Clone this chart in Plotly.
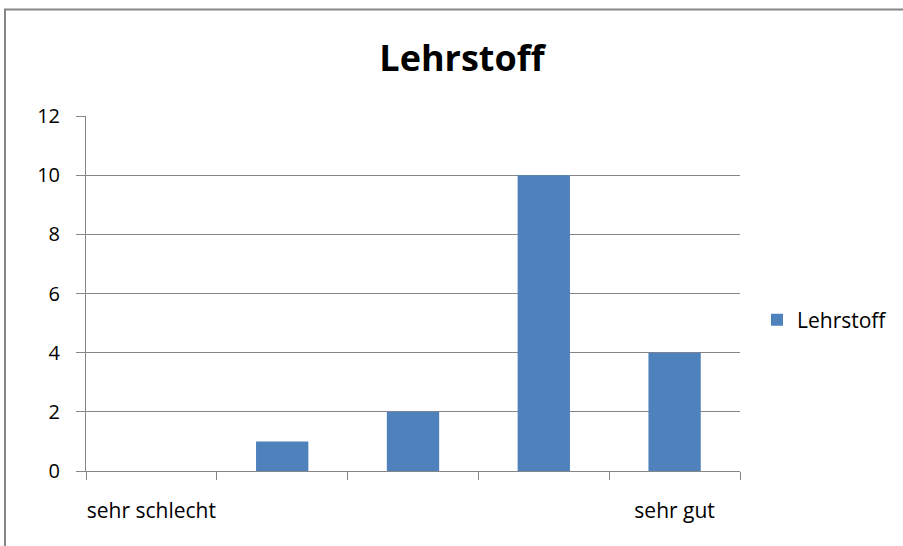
import plotly.graph_objects as go

categories = ["sehr schlecht", "2", "3", "4", "sehr gut"]
tick_labels = ["sehr schlecht", "", "", "", "sehr gut"]
values = [0, 1, 2, 10, 4]
series_name = "Lehrstoff"
title = "Lehrstoff"

W, H = 903, 546
L, R, T, B = 86, 740, 115.7, 471
pw, ph = R - L, B - T

fig = go.Figure()
fig.add_trace(go.Bar(x=categories, y=values, name=series_name,
                     marker=dict(color="#4F81BD", line=dict(width=0)),
                     showlegend=True))

font = "Open Sans, Noto Sans, sans-serif"

fig.update_layout(
    width=W, height=H,
    margin=dict(l=L, r=W - R, t=T, b=H - B, pad=0, autoexpand=False),
    paper_bgcolor="white", plot_bgcolor="white",
    bargap=0.6,
    font=dict(family=font, color="#000000", size=20),
    title=dict(text="<b>" + title + "</b>", x=(462) / W, xanchor="center",
               y=1 - 58 / H, yanchor="middle",
               font=dict(size=36, family=font, color="#000000")),
    showlegend=True,
    legend=dict(x=(757 - L) / pw, y=(471 - 320) / ph, xanchor="left", yanchor="middle",
                font=dict(size=21, family=font, color="#000000"),
                itemwidth=30, bgcolor="rgba(0,0,0,0)"),
    xaxis=dict(type="category", tickmode="array", tickvals=categories, ticktext=tick_labels,
               tickson="boundaries", ticks="outside", ticklen=8, tickcolor="#868686",
               showline=True, linecolor="#868686", linewidth=1, tickangle=0,
               automargin=False,
               showgrid=False, ticklabelstandoff=21,
               tickfont=dict(size=21, family=font, color="#000000")),
    yaxis=dict(range=[0, 12], dtick=2, tick0=0, ticks="outside", ticklen=9,
               tickcolor="#868686", showline=True, linecolor="#868686", linewidth=1,
               showgrid=True, gridcolor="#868686", gridwidth=1, zeroline=False,
               ticklabelstandoff=12, automargin=False,
               tickfont=dict(size=20, family=font, color="#000000")),
)

# outer chart frame
fig.add_shape(type="rect", xref="paper", yref="paper",
              x0=(5 - L) / pw, x1=(910 - L) / pw,
              y0=(B - 560) / ph, y1=(B - 9) / ph,
              line=dict(color="#868686", width=2), fillcolor="rgba(0,0,0,0)", layer="below")

fig.write_html("out.html", config={"displayModeBar": False},
               post_script="document.body.style.margin='0';document.body.style.overflow='hidden';")
